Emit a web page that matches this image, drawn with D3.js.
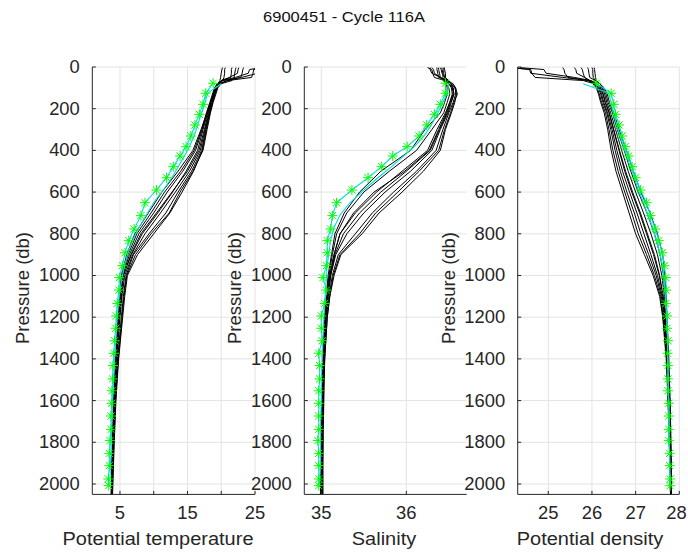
<!DOCTYPE html>
<html><head><meta charset="utf-8">
<script src="https://cdn.jsdelivr.net/npm/d3@7"></script>
<style>body{margin:0;background:#fff}svg{display:block}</style>
</head><body><svg id="c" width="688" height="554"></svg>
<script>
// ---------- data ----------
const title = "6900451 - Cycle 116A";
const histLevels = [3,12,30,50,65,80,100,130,170,220,300,400,500,600,700,800,900,1000,1100,1200,1400,1600,1800,2000,2050];
const histT1 = [27.0,24.8,24.7,24.5,21.0,19.8,19.3,19.0,18.6,18.2,17.6,16.9,15.3,13.2,11.0,8.7,6.9,5.7,5.3,5.0,4.55,4.25,4.0,3.85,3.8];
const histT2 = [22.2,22.1,22.0,21.9,21.6,20.0,19.5,19.2,18.8,18.4,17.9,17.3,15.8,13.9,12.3,9.6,7.3,6.0,5.6,5.3,4.75,4.35,4.1,3.9,3.85];
const histT3 = [21.6,21.5,21.5,21.4,20.0,19.6,19.2,18.9,18.5,18.0,17.3,16.5,14.8,12.8,10.6,8.3,6.7,5.5,5.2,4.9,4.5,4.2,3.95,3.8,3.75];
const histT4 = [26.5,25.6,25.4,23.0,20.3,19.6,19.1,18.8,18.4,17.9,17.2,16.2,14.3,12.0,10.0,7.8,6.4,5.4,5.1,4.8,4.45,4.15,3.95,3.8,3.75];
const histT5 = [20.6,20.5,20.5,20.4,20.2,19.4,19.0,18.7,18.3,17.8,17.1,16.0,14.0,11.6,9.6,7.5,6.2,5.3,5.0,4.75,4.4,4.1,3.9,3.75,3.7];
const histT6 = [23.3,23.2,23.1,22.9,20.8,19.8,19.4,19.1,18.7,18.3,17.7,17.1,15.6,13.6,11.8,9.3,7.0,5.9,5.5,5.2,4.65,4.3,4.05,3.85,3.8];
const histT7 = [26.0,24.2,24.0,22.1,20.1,19.5,19.1,18.8,18.5,18.1,17.5,16.7,15.0,12.7,10.4,8.1,6.6,5.5,5.2,4.9,4.5,4.2,4.0,3.8,3.75];
const histT8 = [22.6,22.5,22.4,21.2,20.0,19.7,19.3,19.0,18.7,18.3,17.8,17.2,15.9,14.2,12.4,10.0,7.6,6.1,5.7,5.4,4.8,4.4,4.15,3.95,3.9];
const histT9 = [20.2,20.1,20.0,19.9,19.8,19.5,19.2,18.9,18.4,17.9,17.0,15.8,13.6,11.2,9.2,7.2,6.0,5.2,4.95,4.7,4.35,4.05,3.88,3.72,3.7];

const histS1 = [36.25,36.30,36.31,36.33,36.45,36.50,36.55,36.56,36.53,36.49,36.40,36.30,36.05,35.75,35.50,35.30,35.17,35.11,35.08,35.05,35.03,35.02,35.01,35.01,35.01];
const histS2 = [36.45,36.45,36.46,36.46,36.48,36.52,36.58,36.60,36.56,36.52,36.45,36.38,36.15,35.90,35.64,35.45,35.22,35.14,35.10,35.07,35.04,35.02,35.02,35.01,35.01];
const histS3 = [36.38,36.38,36.39,36.40,36.46,36.50,36.53,36.54,36.51,36.46,36.36,36.25,35.95,35.65,35.40,35.22,35.15,35.10,35.07,35.05,35.03,35.02,35.01,35.00,35.00];
const histS4 = [36.28,36.28,36.30,36.40,36.47,36.52,36.55,36.55,36.51,36.47,36.38,36.27,35.98,35.62,35.38,35.22,35.15,35.10,35.07,35.05,35.02,35.01,35.01,35.00,35.00];
const histS5 = [36.42,36.42,36.43,36.43,36.44,36.47,36.50,36.51,36.48,36.44,36.30,36.12,35.80,35.50,35.30,35.18,35.13,35.09,35.06,35.04,35.02,35.01,35.00,35.00,35.00];
const histS6 = [36.36,36.36,36.37,36.38,36.48,36.55,36.58,36.58,36.55,36.50,36.43,36.35,36.12,35.85,35.60,35.40,35.20,35.13,35.09,35.06,35.03,35.02,35.01,35.01,35.01];
const histS7 = [36.30,36.32,36.33,36.40,36.46,36.50,36.54,36.56,36.52,36.48,36.39,36.28,36.00,35.70,35.45,35.26,35.16,35.11,35.08,35.05,35.03,35.02,35.01,35.00,35.00];
const histS8 = [36.40,36.41,36.42,36.45,36.50,36.53,36.57,36.59,36.57,36.53,36.46,36.40,36.20,35.95,35.68,35.48,35.23,35.15,35.10,35.07,35.04,35.03,35.02,35.02,35.02];
const histS9 = [36.44,36.44,36.44,36.45,36.46,36.47,36.48,36.48,36.45,36.40,36.22,36.05,35.70,35.45,35.27,35.16,35.12,35.08,35.06,35.04,35.02,35.01,35.00,34.99,34.99];

const histD1 = [24.10,24.60,24.62,24.70,25.80,26.05,26.17,26.22,26.27,26.36,26.46,26.57,26.70,26.86,27.03,27.19,27.35,27.50,27.61,27.66,27.72,27.76,27.79,27.80,27.81];
const histD2 = [25.75,25.78,25.80,25.83,25.95,26.05,26.12,26.17,26.22,26.31,26.39,26.48,26.60,26.75,26.91,27.06,27.25,27.43,27.57,27.63,27.71,27.75,27.78,27.79,27.80];
const histD3 = [25.90,25.92,25.93,25.95,26.08,26.14,26.19,26.25,26.30,26.39,26.49,26.62,26.75,26.91,27.09,27.25,27.41,27.54,27.63,27.67,27.73,27.77,27.79,27.81,27.81];
const histD4 = [24.20,24.57,24.60,25.33,25.95,26.12,26.23,26.29,26.34,26.43,26.54,26.68,26.83,27.00,27.18,27.35,27.50,27.60,27.66,27.70,27.74,27.78,27.80,27.81,27.82];
const histD5 = [26.00,26.02,26.02,26.03,26.08,26.18,26.25,26.32,26.37,26.47,26.58,26.74,26.89,27.06,27.26,27.43,27.56,27.64,27.68,27.71,27.75,27.78,27.80,27.82,27.82];
const histD6 = [25.33,25.36,25.38,25.45,25.90,26.05,26.15,26.20,26.25,26.34,26.43,26.53,26.65,26.80,26.97,27.12,27.30,27.47,27.59,27.65,27.72,27.75,27.78,27.80,27.80];
const histD7 = [24.35,24.90,24.95,25.60,25.98,26.10,26.20,26.26,26.31,26.40,26.50,26.63,26.77,26.93,27.11,27.27,27.43,27.55,27.63,27.68,27.73,27.77,27.80,27.81,27.81];
const histD8 = [25.60,25.63,25.65,25.83,25.95,26.02,26.10,26.15,26.20,26.28,26.36,26.44,26.55,26.70,26.85,27.00,27.20,27.40,27.55,27.62,27.70,27.74,27.77,27.79,27.80];
const histD9 = [26.05,26.06,26.07,26.08,26.10,26.18,26.28,26.35,26.40,26.50,26.62,26.79,26.95,27.12,27.33,27.50,27.62,27.67,27.70,27.72,27.76,27.79,27.81,27.82,27.82];

const cyanP = [80,125,180,230,280,330,380,430,480,530,590,650,710,770,830,890,950,1010,1070,1130,1200,1300,1400,1500,1600,1700,1800,1900,2000];
const cyanT = [20.0,18.0,17.5,17.0,16.5,16.0,15.3,14.5,13.6,12.7,11.4,10.0,8.9,7.8,6.9,6.2,5.7,5.3,5.0,4.8,4.6,4.4,4.2,4.05,3.9,3.8,3.7,3.6,3.5];
const cyanS = [36.50,36.48,36.42,36.36,36.29,36.21,36.10,35.96,35.82,35.67,35.50,35.34,35.22,35.15,35.11,35.09,35.07,35.06,35.05,35.04,35.03,35.02,35.01,35.00,35.00,34.99,34.99,34.99,34.98];
const cyanD = [25.80,26.38,26.45,26.50,26.57,26.64,26.72,26.80,26.88,26.97,27.06,27.18,27.28,27.39,27.47,27.55,27.61,27.65,27.67,27.69,27.71,27.73,27.74,27.75,27.76,27.77,27.77,27.78,27.78];

const starP = [78,126,179,227,278,331,382,427,478,531,590,651,713,777,833,891,953,1010,1070,1134,1194,1253,1313,1373,1432,1496,1553,1613,1674,1738,1792,1853,1912,1976,2008];
const starT = [18.8,17.7,17.3,16.75,16.1,15.5,14.8,13.9,12.9,11.9,10.4,8.7,8.1,7.1,6.3,5.75,5.35,4.9,4.85,4.6,4.45,4.37,4.2,4.1,3.97,3.9,3.82,3.77,3.67,3.67,3.52,3.42,3.42,3.27,3.33];
const starS = [36.46,36.46,36.40,36.33,36.24,36.15,36.01,35.84,35.71,35.55,35.36,35.18,35.13,35.11,35.07,35.07,35.06,35.02,35.06,35.04,35.00,35.00,35.01,34.97,34.98,34.98,34.97,34.97,34.97,34.97,34.96,34.97,34.97,34.97,34.97];
const starD = [26.10,26.44,26.50,26.54,26.62,26.69,26.76,26.84,26.92,27.00,27.11,27.25,27.34,27.45,27.53,27.61,27.66,27.69,27.70,27.69,27.72,27.72,27.74,27.73,27.74,27.74,27.74,27.76,27.76,27.76,27.76,27.78,27.78,27.79,27.79];

const pressureTicks = [0,200,400,600,800,1000,1200,1400,1600,1800,2000];
const tempTicks = [5,10,15,20,25];
const tempTickLabels = ["5","","15","","25"];
const salTicks = [35,36];
const salTickLabels = ["35","36"];
const denTicks = [25,26,27,28];
const denTickLabels = ["25","26","27","28"];

// ---------- layout ----------
const svg = d3.select("#c");
const TOP = 67, BOT = 494.4;
const y = d3.scaleLinear().domain([0,2050]).range([TOP,BOT]);
const ink = "#262626", gridC = "#e3e3e3";
const FONT = "Liberation Sans, Arial, Helvetica, sans-serif";

function stext(g, x, yy, str, size, anchor, sx, rot) {
  return g.append("text")
    .attr("transform", `translate(${x},${yy})` + (rot ? ` rotate(${rot})` : "") + ` scale(${sx},1)`)
    .attr("text-anchor", anchor).attr("font-family", FONT).attr("font-size", size)
    .attr("fill", ink).text(str);
}

stext(svg, 344, 22, title, 15, "middle", 1.1).attr("fill", "#111");

const panels = [
  {x0:92.3, x1:255, dom:[0.9,25], ticks:tempTicks, labels:tempTickLabels, xlabel:"Potential temperature", lx:158,
   hist:[histT1,histT2,histT3,histT4,histT5,histT6,histT7,histT8,histT9], cyan:cyanT, star:starT},
  {x0:304.3, x1:466.7, dom:[34.8,36.71], ticks:salTicks, labels:salTickLabels, xlabel:"Salinity", lx:384,
   hist:[histS1,histS2,histS3,histS4,histS5,histS6,histS7,histS8,histS9], cyan:cyanS, star:starS},
  {x0:517.7, x1:679.3, dom:[24.3,28.0], ticks:denTicks, labels:denTickLabels, xlabel:"Potential density", lx:590,
   hist:[histD1,histD2,histD3,histD4,histD5,histD6,histD7,histD8,histD9], cyan:cyanD, star:starD}
];

panels.forEach((p, i) => {
  const x = d3.scaleLinear().domain(p.dom).range([p.x0, p.x1]);
  const g = svg.append("g");
  const cid = "clip" + i;
  svg.append("defs").append("clipPath").attr("id", cid).append("rect")
    .attr("x", p.x0).attr("y", TOP).attr("width", p.x1 - p.x0).attr("height", BOT - TOP);

  // grid
  g.selectAll(".gx").data(p.ticks).enter().append("line")
    .attr("x1", d => x(d)).attr("x2", d => x(d)).attr("y1", TOP).attr("y2", BOT)
    .attr("stroke", gridC).attr("stroke-width", 1);
  g.selectAll(".gy").data(pressureTicks).enter().append("line")
    .attr("x1", p.x0).attr("x2", p.x1).attr("y1", d => y(d)).attr("y2", d => y(d))
    .attr("stroke", gridC).attr("stroke-width", 1);

  const plot = g.append("g").attr("clip-path", `url(#${cid})`);
  const lineH = d3.line().x(d => x(d[1])).y(d => y(d[0]));
  p.hist.forEach(arr => {
    plot.append("path").datum(histLevels.map((pp, k) => [pp, arr[k]]))
      .attr("d", lineH).attr("fill", "none").attr("stroke", "#000").attr("stroke-width", 1);
  });
  plot.append("path").datum(cyanP.map((pp, k) => [pp, p.cyan[k]]))
    .attr("d", lineH).attr("fill", "none").attr("stroke", "#00dde6").attr("stroke-width", 1.1);
  plot.append("path").datum(starP.map((pp, k) => [pp, p.star[k]]))
    .attr("d", lineH).attr("fill", "none").attr("stroke", "#00dde6").attr("stroke-width", 1.1);
  const r = 5, rd = 3.6;
  const starPath = `M${-r},0L${r},0M0,${-r}L0,${r}M${-rd},${-rd}L${rd},${rd}M${-rd},${rd}L${rd},${-rd}`;
  plot.selectAll(".st").data(starP.map((pp, k) => [pp, p.star[k]])).enter().append("path")
    .attr("transform", d => `translate(${x(d[1])},${y(d[0])})`)
    .attr("d", starPath).attr("stroke", "#00ff00").attr("stroke-width", 1).attr("fill", "none");

  // axes (MATLAB style: inward ticks, box off)
  const ax = g.append("g");
  ax.append("line").attr("x1", p.x0).attr("x2", p.x0).attr("y1", TOP).attr("y2", BOT).attr("stroke", ink);
  ax.append("line").attr("x1", p.x0).attr("x2", p.x1).attr("y1", BOT).attr("y2", BOT).attr("stroke", ink);
  ax.selectAll(".ty").data(pressureTicks).enter().append("line")
    .attr("x1", p.x0).attr("x2", p.x0 + 3.5).attr("y1", d => y(d)).attr("y2", d => y(d)).attr("stroke", ink);
  ax.selectAll(".tx").data(p.ticks).enter().append("line")
    .attr("x1", d => x(d)).attr("x2", d => x(d)).attr("y1", BOT).attr("y2", BOT - 3.5).attr("stroke", ink);
  pressureTicks.forEach(t => {
    stext(ax, p.x0 - 12.5, y(t) + 6, String(t), 17.5, "end", 1.05);
  });
  p.ticks.forEach((t, k) => {
    if (!p.labels[k]) return;
    const tx = Math.min(x(t), 676.5);
    stext(ax, tx, BOT + 25, p.labels[k], 17.5, "middle", 1.05);
  });
  stext(ax, p.lx, 545, p.xlabel, 18.5, "middle", 1.08);
  stext(ax, p.x0 - 63, 288, "Pressure (db)", 18.5, "middle", 1.0, -90);
});
</script></body></html>
